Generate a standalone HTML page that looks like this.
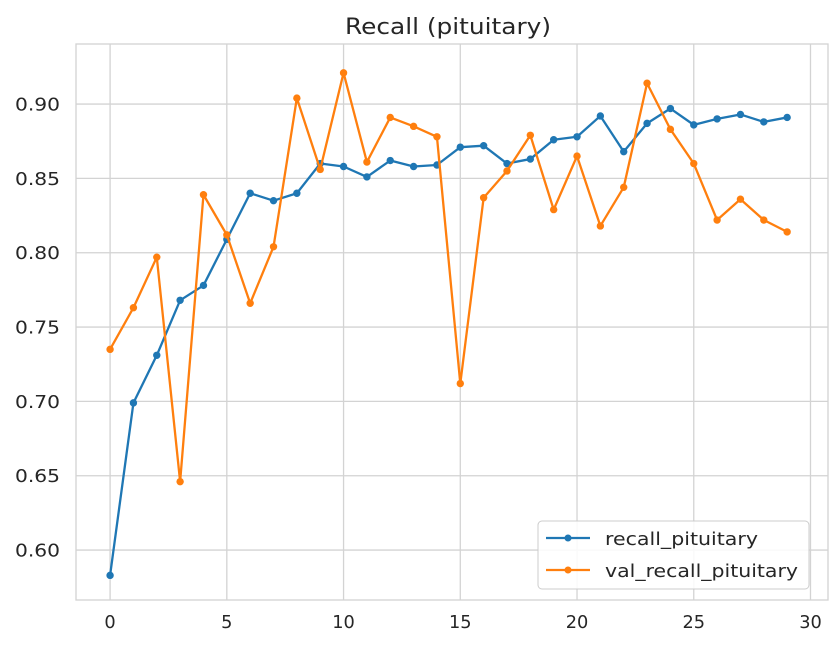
<!DOCTYPE html>
<html><head><meta charset="utf-8"><style>
body{margin:0;background:#fff;font-family:"Liberation Sans","DejaVu Sans",sans-serif;}
svg text{font-family:"DejaVu Sans","Liberation Sans",sans-serif;fill:#262626;}
</style></head><body>
<svg id="chart" width="837" height="650" xmlns="http://www.w3.org/2000/svg">
<text x="448" y="34" font-size="22" text-anchor="middle" textLength="206" lengthAdjust="spacingAndGlyphs">Recall (pituitary)</text>
<g id="grid"></g><g id="axes"></g><g id="series"></g>
<g>
<rect x="538" y="521" width="271" height="68" rx="4" fill="#fff" fill-opacity="0.85" stroke="#ccc"/>
<g>
<line x1="546" y1="538" x2="590" y2="538" stroke="#1f77b4" stroke-width="2.2"/><circle cx="568" cy="538" r="3.5" fill="#1f77b4"/>
<text x="605" y="545" font-size="18" textLength="153" lengthAdjust="spacingAndGlyphs">recall_pituitary</text></g>
<g>
<line x1="546" y1="570" x2="590" y2="570" stroke="#ff7f0e" stroke-width="2.2"/><circle cx="568" cy="570" r="3.5" fill="#ff7f0e"/>
<text x="605" y="577" font-size="18" textLength="193" lengthAdjust="spacingAndGlyphs">val_recall_pituitary</text></g>
</g>
</svg>
<script>
const epochs=[0,1,2,3,4,5,6,7,8,9,10,11,12,13,14,15,16,17,18,19,20,21,22,23,24,25,26,27,28,29];
const recall=[0.583,0.699,0.731,0.768,0.778,0.809,0.840,0.835,0.840,0.860,0.858,0.851,0.862,0.858,0.859,0.871,0.872,0.860,0.863,0.876,0.878,0.892,0.868,0.887,0.897,0.886,0.890,0.893,0.888,0.891];
const valRecall=[0.735,0.763,0.797,0.646,0.839,0.812,0.766,0.804,0.904,0.856,0.921,0.861,0.891,0.885,0.878,0.712,0.837,0.855,0.879,0.829,0.865,0.818,0.844,0.914,0.883,0.860,0.822,0.836,0.822,0.814];
const xTicks=[0,5,10,15,20,25,30];
const yTicks=[0.60,0.65,0.70,0.75,0.80,0.85,0.90];
const L=76,R=828,T=44,B=600,x0=-1.46,x1=30.75,y0=0.5664,y1=0.9404;
const sx=v=>L+(v-x0)/(x1-x0)*(R-L);
const sy=v=>B-(v-y0)/(y1-y0)*(B-T);
const NS="http://www.w3.org/2000/svg";
function mk(t,a,p){const e=document.createElementNS(NS,t);for(const k in a)e.setAttribute(k,a[k]);p.appendChild(e);return e;}
const grid=document.getElementById('grid'),axes=document.getElementById('axes'),ser=document.getElementById('series');
xTicks.forEach(t=>{const g=mk('line',{x1:sx(t),x2:sx(t),y1:T,y2:B,stroke:'#d3d3d3','stroke-width':1.3},grid);


const s=String(t);
const tx=mk('text',{x:sx(t),y:B+28,'font-size':18,'text-anchor':'middle',textLength:s.length*11.3,lengthAdjust:'spacingAndGlyphs'},axes);tx.textContent=s;

});
yTicks.forEach(t=>{const g=mk('line',{x1:L,x2:R,y1:sy(t),y2:sy(t),stroke:'#d3d3d3','stroke-width':1.3},grid);


const tx=mk('text',{x:L-16,y:sy(t)+6.5,'font-size':18,'text-anchor':'end',textLength:45,lengthAdjust:'spacingAndGlyphs'},axes);tx.textContent=t.toFixed(2);

});
const fr=mk('rect',{x:L,y:T,width:R-L,height:B-T,fill:'none',stroke:'#d3d3d3','stroke-width':1.3},grid);


function draw(vals,col,name){
const pl=mk('polyline',{points:vals.map((v,i)=>sx(epochs[i])+','+sy(v)).join(' '),fill:'none',stroke:col,'stroke-width':2.3,'stroke-linejoin':'round'},ser);


vals.forEach((v,i)=>{const c=mk('circle',{cx:sx(epochs[i]),cy:sy(v),r:3.7,fill:col},ser);

});}
draw(recall,'#1f77b4','recall');
draw(valRecall,'#ff7f0e','val-recall');
</script>
</body></html>
